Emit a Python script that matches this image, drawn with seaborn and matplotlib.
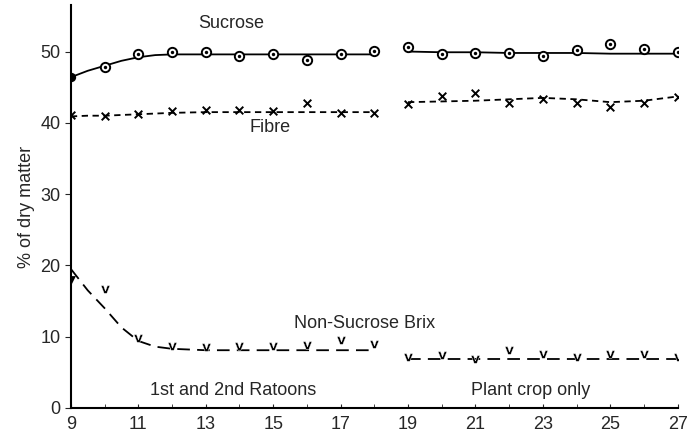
import numpy as np
import pandas as pd
import matplotlib
matplotlib.use("Agg")
import matplotlib.pyplot as plt
import seaborn as sns

# months of the observation, two crops
months_ratoon = [9, 10, 11, 12, 13, 14, 15, 16, 17, 18]
months_plant = [19, 20, 21, 22, 23, 24, 25, 26, 27]

# observed values (% of dry matter)
sucrose_ratoon = [46.4, 47.9, 49.7, 50.0, 50.0, 49.4, 49.6, 48.8, 49.6, 50.1]
sucrose_plant = [50.6, 49.7, 49.8, 49.8, 49.4, 50.2, 51.0, 50.4, 49.9]
fibre_ratoon = [41.1, 40.9, 41.2, 41.6, 41.8, 41.8, 41.6, 42.8, 41.4, 41.4]
fibre_plant = [42.7, 43.8, 44.2, 42.8, 43.4, 42.8, 42.2, 42.8, 43.6]
brix_ratoon = [18.0, 16.7, 9.8, 8.7, 8.6, 8.7, 8.7, 8.8, 9.6, 9.0]
brix_plant = [7.1, 7.4, 6.9, 8.2, 7.5, 7.2, 7.5, 7.6, 7.2]

# fitted curves
fit_x_ratoon = [9, 9.5, 10, 10.5, 11, 11.5, 12, 13, 14, 15, 16, 17, 18]
sucrose_fit_ratoon = [46.4, 47.3, 48.0, 48.7, 49.2, 49.5, 49.6, 49.6, 49.6, 49.6, 49.6, 49.6, 49.6]
fibre_fit_ratoon = [40.9, 41.0, 41.0, 41.1, 41.2, 41.3, 41.4, 41.5, 41.5, 41.5, 41.5, 41.5, 41.5]
brix_fit_ratoon = [19.5, 16.5, 14.0, 11.3, 9.4, 8.6, 8.3, 8.1, 8.1, 8.1, 8.1, 8.1, 8.1]
fit_x_plant = [19, 20, 21, 22, 23, 24, 25, 26, 27]
sucrose_fit_plant = [50.0, 49.9, 49.9, 49.8, 49.8, 49.8, 49.7, 49.7, 49.7]
fibre_fit_plant = [42.9, 43.0, 43.1, 43.3, 43.5, 43.3, 42.9, 43.1, 43.7]
brix_fit_plant = [6.9, 6.9, 6.9, 6.9, 6.9, 6.9, 6.9, 6.9, 6.9]

sns.set_style("ticks")
plt.rcParams['font.family'] = ['Liberation Sans', 'DejaVu Sans']

fig = plt.figure(figsize=(6.88, 4.34), dpi=100)
ax = fig.add_axes([0.103, 0.06, 0.882, 0.928])

fits = [
    (fit_x_ratoon, sucrose_fit_ratoon, '-'), (fit_x_plant, sucrose_fit_plant, '-'),
    (fit_x_ratoon, fibre_fit_ratoon, (0, (3.5, 2.5))), (fit_x_plant, fibre_fit_plant, (0, (3.5, 2.5))),
    (fit_x_ratoon, brix_fit_ratoon, (0, (7, 4))), (fit_x_plant, brix_fit_plant, (0, (7, 4))),
]
for fx, fy, ls in fits:
    sns.lineplot(x=fx, y=fy, ax=ax, color='black', lw=1.3, linestyle=ls)

months = months_ratoon + months_plant
suc = pd.DataFrame({'m': months, 'v': sucrose_ratoon + sucrose_plant})
fib = pd.DataFrame({'m': months, 'v': fibre_ratoon + fibre_plant})
brx = pd.DataFrame({'m': months, 'v': brix_ratoon + brix_plant})

# sucrose: circles with a dot in the middle
sns.scatterplot(data=suc.iloc[1:], x='m', y='v', ax=ax, marker='o', s=45,
                facecolor='white', edgecolor='black', linewidth=1.4, zorder=3)
sns.scatterplot(data=suc.iloc[1:], x='m', y='v', ax=ax, marker='o', s=6,
                color='black', linewidth=0, zorder=4)
sns.scatterplot(data=suc.iloc[:1], x='m', y='v', ax=ax, marker='o', s=45,
                color='black', linewidth=0, zorder=4)
# fibre: crosses
sns.scatterplot(data=fib, x='m', y='v', ax=ax, marker='x', s=30,
                color='black', linewidth=1.4, zorder=3)
# non-sucrose brix: small v's, first one filled
sns.scatterplot(data=brx.iloc[1:], x='m', y='v', ax=ax, marker='$\\mathbf{v}$', s=40,
                color='black', linewidth=0.3, zorder=3)
sns.scatterplot(data=brx.iloc[:1], x='m', y='v', ax=ax, marker='v', s=40,
                color='black', linewidth=0, zorder=3)

ax.text(13.75, 54.0, 'Sucrose', fontsize=13, ha='center', va='center')
ax.text(14.9, 39.3, 'Fibre', fontsize=13, ha='center', va='center')
ax.text(17.7, 11.8, 'Non-Sucrose Brix', fontsize=13, ha='center', va='center')
ax.text(13.8, 2.5, '1st and 2nd Ratoons', fontsize=13, ha='center', va='center')
ax.text(22.65, 2.5, 'Plant crop only', fontsize=13, ha='center', va='center')

ax.set_xlim(9, 27)
ax.set_ylim(0, 56.5)
ax.set_xticks(range(9, 28, 2))
ax.set_xticks(range(9, 28), minor=True)
ax.set_yticks(range(0, 51, 10))
ax.tick_params(axis='x', which='both', direction='in', length=3, labelsize=13, pad=6)
ax.tick_params(axis='y', direction='out', length=4, labelsize=13)
ax.set_xlabel('')
ax.set_ylabel('% of dry matter', fontsize=13)
for s in ['left', 'bottom']:
    ax.spines[s].set_linewidth(1.5)
    ax.spines[s].set_color('black')
sns.despine(ax=ax)

fig.savefig('out.png', dpi=100)
